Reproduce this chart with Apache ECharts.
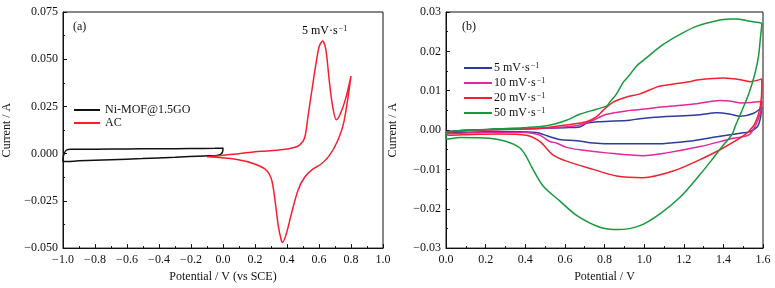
<!DOCTYPE html>
<html>
<head>
<meta charset="utf-8">
<script src="https://cdn.jsdelivr.net/npm/echarts@6/dist/echarts.min.js"></script>
<style>
  html, body { margin: 0; padding: 0; background: #fff; }
  #chart { width: 775px; height: 288px; }
</style>
</head>
<body>
<div id="chart"></div>
<script>
// (a) Ni-MOF@1.5GO vs AC at 5 mV/s
const niMofV = [-1.0, -0.995, -0.98, -0.95, -0.8, -0.6, -0.4, -0.2, -0.05, -0.005, 0.0, -0.005, -0.03, -0.116, -0.3, -0.506, -0.7, -0.9, -0.977, -1.0, -1.0]
const niMofI = [-0.003, -0.0005, 0.0018, 0.0023, 0.0024, 0.0025, 0.0026, 0.0027, 0.0028, 0.0029, 0.003, 0.0005, -0.0008, -0.0012, -0.0019, -0.0026, -0.0032, -0.0038, -0.0042, -0.0041, -0.003]

const acV = [-0.1, 0.0, 0.1, 0.2, 0.274, 0.377, 0.438, 0.479, 0.51, 0.53, 0.551, 0.582, 0.602, 0.623, 0.643, 0.663, 0.684, 0.709, 0.735, 0.766, 0.8,
  0.756, 0.715, 0.663, 0.612, 0.561, 0.51, 0.469, 0.428, 0.397, 0.372, 0.366, 0.346, 0.325, 0.305, 0.274, 0.202, 0.079, -0.1]
const acI = [-0.0017, -0.0008, 0.0, 0.001, 0.0014, 0.0022, 0.0031, 0.0045, 0.0083, 0.019, 0.031, 0.048, 0.057, 0.0597, 0.055, 0.0396, 0.0257, 0.0179, 0.0214, 0.029, 0.041,
  0.017, 0.0066, -0.0012, -0.0056, -0.0082, -0.0125, -0.0194, -0.0316, -0.042, -0.047, -0.0464, -0.0385, -0.0246, -0.0142, -0.009, -0.0056, -0.003, -0.0017]

// (b) scan rates
const v5 = [0.0, 0.14, 0.4, 0.6, 0.675, 0.71, 0.776, 0.928, 0.979, 1.097, 1.266, 1.367, 1.43, 1.485, 1.55, 1.594,
  1.577, 1.535, 1.485, 1.367, 1.248, 1.063, 0.861, 0.726, 0.659, 0.574, 0.524, 0.473, 0.456, 0.3, 0.01, 0.0]
const i5 = [-0.0004, 0.0, 0.0003, 0.0006, 0.0008, 0.0017, 0.0021, 0.0025, 0.0029, 0.0034, 0.0038, 0.0044, 0.0041, 0.0035, 0.0042, 0.0058,
  0.0013, -0.0004, -0.0008, -0.0017, -0.0027, -0.0035, -0.0035, -0.0032, -0.0027, -0.0024, -0.0017, -0.0008, -0.0006, -0.0004, -0.0006, -0.0004]

const v10 = [0.0, 0.14, 0.3, 0.5, 0.6, 0.675, 0.743, 0.81, 0.928, 0.979, 1.097, 1.266, 1.383, 1.43, 1.485, 1.54, 1.594,
  1.586, 1.56, 1.527, 1.45, 1.282, 1.114, 0.995, 0.81, 0.675, 0.608, 0.557, 0.524, 0.473, 0.405, 0.2, 0.01, 0.0]
const i10 = [-0.0004, 0.0, 0.0002, 0.0005, 0.0008, 0.0013, 0.0025, 0.004, 0.005, 0.0052, 0.0059, 0.0067, 0.0075, 0.0074, 0.0069, 0.007, 0.0073,
  0.0042, 0.0009, -0.0013, -0.0021, -0.0042, -0.0058, -0.0065, -0.0058, -0.005, -0.0044, -0.0033, -0.0029, -0.0013, -0.0006, -0.0006, -0.0009, -0.0004]

const v20 = [0.0, 0.05, 0.14, 0.3, 0.473, 0.608, 0.709, 0.76, 0.793, 0.844, 0.911, 0.979, 1.063, 1.097, 1.23, 1.266, 1.4, 1.435, 1.485, 1.535, 1.594,
  1.592, 1.578, 1.55, 1.5, 1.383, 1.282, 1.147, 0.995, 0.861, 0.743, 0.608, 0.54, 0.473, 0.405, 0.27, 0.136, 0.01, 0.0]
const i20 = [-0.0008, -0.0003, 0.0, 0.0002, 0.0004, 0.0013, 0.0021, 0.0034, 0.005, 0.0071, 0.0084, 0.0092, 0.0109, 0.0113, 0.0123, 0.0127, 0.0132, 0.0131, 0.0128, 0.0123, 0.013,
  0.0084, 0.0042, 0.0009, -0.0015, -0.005, -0.0075, -0.0104, -0.0121, -0.0117, -0.01, -0.0079, -0.0063, -0.0029, -0.0013, -0.001, -0.0011, -0.0013, -0.0008]

const v50 = [0.0, 0.05, 0.14, 0.25, 0.39, 0.507, 0.608, 0.675, 0.76, 0.81, 0.827, 0.861, 0.894, 0.93, 0.962, 1.013, 1.063, 1.097, 1.181, 1.266, 1.35, 1.434, 1.468, 1.518, 1.55, 1.594,
  1.588, 1.578, 1.56, 1.53, 1.49, 1.46, 1.445, 1.4, 1.349, 1.282, 1.181, 1.08, 0.979, 0.869, 0.776, 0.659, 0.574, 0.49, 0.439, 0.406, 0.372, 0.305, 0.22, 0.07, 0.01, 0.0, 0.0]
const i50 = [-0.0006, -0.0002, 0.0, 0.0003, 0.0006, 0.0011, 0.0025, 0.004, 0.0053, 0.0061, 0.0071, 0.0092, 0.0121, 0.0142, 0.0163, 0.0184, 0.0205, 0.0218, 0.0243, 0.0264, 0.0276, 0.0282, 0.0282, 0.0278, 0.0275, 0.027,
  0.024, 0.019, 0.0145, 0.0095, 0.0045, 0.001, -0.001, -0.0038, -0.0071, -0.0113, -0.0171, -0.0213, -0.0243, -0.0253, -0.0247, -0.0217, -0.018, -0.0142, -0.01, -0.0068, -0.0045, -0.0029, -0.0021, -0.0019, -0.0023, -0.002, -0.0006]

const xTicksA = { min: -1.0, max: 1.0, interval: 0.2 }
const yTicksA = { min: -0.05, max: 0.075, interval: 0.025 }
const xTicksB = { min: 0.0, max: 1.6, interval: 0.2 }
const yTicksB = { min: -0.03, max: 0.03, interval: 0.01 }

const serif = '"Liberation Serif", "Times New Roman", serif'
const minus = s => s.replace('-', '\u2212')
const zip = (xs, ys) => xs.map((x, i) => [x, ys[i]])

const rich = {
  t: { fontFamily: serif, fontSize: 12, color: '#111' },
  s: { fontFamily: serif, fontSize: 8, color: '#111', verticalAlign: 'top', padding: [0, 0, 4, 1] }
}
const rateLabel = name => {
  const p = name.split('^')
  return p.length > 1 ? `{t|${p[0]}}{s|${p[1]}}` : `{t|${name}}`
}

function axisX(idx, ticks, name, digits) {
  return {
    type: 'value', gridIndex: idx, min: ticks.min, max: ticks.max, interval: ticks.interval,
    name: name, nameLocation: 'middle', nameGap: 19,
    nameTextStyle: { fontFamily: serif, fontSize: 12, color: '#111' },
    axisLine: { onZero: false, lineStyle: { color: '#111', width: 1 } },
    axisTick: { inside: true, length: 4, lineStyle: { color: '#111' } },
    minorTick: { show: true, splitNumber: 2, length: 2, lineStyle: { color: '#111' } },
    axisLabel: { margin: 6, fontFamily: serif, fontSize: 12, color: '#111', formatter: v => minus(v.toFixed(digits)) },
    splitLine: { show: false }
  }
}
function axisY(idx, ticks, digits, gap) {
  return {
    type: 'value', gridIndex: idx, min: ticks.min, max: ticks.max, interval: ticks.interval,
    name: 'Current / A', nameLocation: 'middle', nameGap: gap,
    nameTextStyle: { fontFamily: serif, fontSize: 12, color: '#111' },
    axisLine: { show: true, onZero: false, lineStyle: { color: '#111', width: 1 } },
    axisTick: { show: true, inside: true, length: 4, lineStyle: { color: '#111' } },
    minorTick: { show: true, splitNumber: 2, length: 2, lineStyle: { color: '#111' } },
    axisLabel: { margin: 5, fontFamily: serif, fontSize: 12, color: '#111', formatter: v => minus(v.toFixed(digits)) },
    splitLine: { show: false }
  }
}
function line(name, xi, color, xs, ys) {
  return {
    name: name, type: 'line', xAxisIndex: xi, yAxisIndex: xi,
    data: zip(xs, ys), symbol: 'none', smooth: 0.3,
    lineStyle: { color: color, width: 1.5 }, itemStyle: { color: color }
  }
}

const chart = echarts.init(document.getElementById('chart'))
chart.setOption({
  animation: false,
  grid: [
    { left: 58, top: 12, width: 325, height: 240, show: true, borderColor: '#111', borderWidth: 1 },
    { left: 446, top: 12, width: 317, height: 239, show: true, borderColor: '#111', borderWidth: 1 }
  ],
  xAxis: [
    axisX(0, xTicksA, 'Potential / V (vs SCE)', 1),
    axisX(1, xTicksB, 'Potential / V', 1)
  ],
  yAxis: [
    axisY(0, yTicksA, 3, 50),
    axisY(1, yTicksB, 2, 47)
  ],
  legend: [
    {
      data: ['Ni-MOF@1.5GO', 'AC'], orient: 'vertical', left: 69, top: 99,
      icon: 'rect', itemWidth: 26, itemHeight: 2, itemGap: 1,
      textStyle: { fontFamily: serif, fontSize: 12, color: '#111' }
    },
    {
      data: ['5 mV·s^−1', '10 mV·s^−1', '20 mV·s^−1', '50 mV·s^−1'], orient: 'vertical', left: 459, top: 57,
      icon: 'rect', itemWidth: 28, itemHeight: 2, itemGap: 3,
      formatter: rateLabel,
      textStyle: { rich: rich, padding: [0, 0, 0, -3] }
    }
  ],
  graphic: [
    { type: 'text', left: 73, top: 21, style: { text: '(a)', font: '12px ' + serif, fill: '#111' } },
    { type: 'text', left: 302, top: 25, style: { text: '{t|5 mV·s}{s|−1}', rich: rich } },
    { type: 'text', left: 462, top: 21, style: { text: '(b)', font: '12px ' + serif, fill: '#111' } }
  ],
  series: [
    line('Ni-MOF@1.5GO', 0, '#111111', niMofV, niMofI),
    line('AC', 0, '#f5202f', acV, acI),
    line('5 mV·s^−1', 1, '#2e3a9c', v5, i5),
    line('10 mV·s^−1', 1, '#e0289f', v10, i10),
    line('20 mV·s^−1', 1, '#f5202f', v20, i20),
    line('50 mV·s^−1', 1, '#17993c', v50, i50)
  ]
})
</script>
</body>
</html>
